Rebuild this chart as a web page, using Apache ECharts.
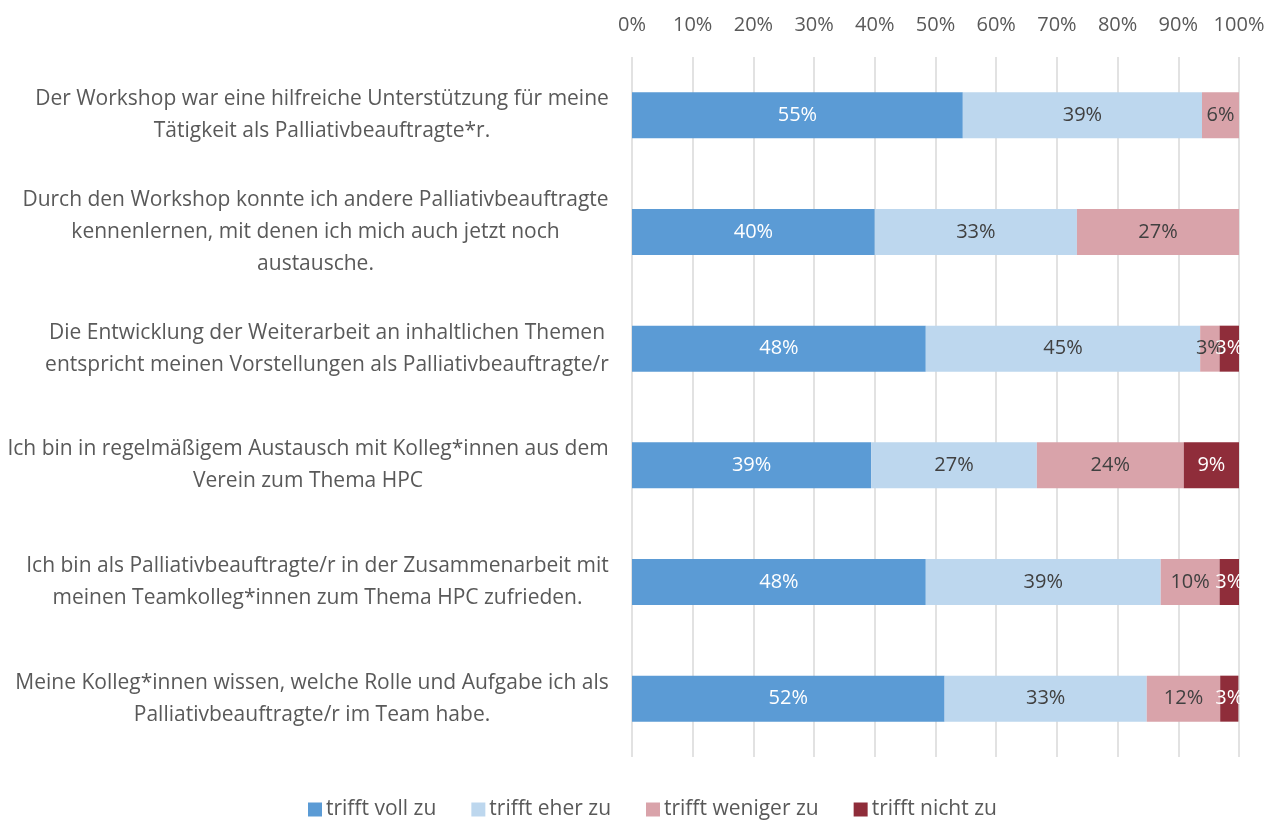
<!DOCTYPE html>
<html><head><meta charset="utf-8">
<script src="https://cdn.jsdelivr.net/npm/echarts@6/dist/echarts.min.js"></script>
<style>html,body{margin:0;padding:0;background:#fff}#c{width:1269px;height:821px}</style>
</head><body><div id="c"></div>
<script>
const categories = [
  "Der Workshop war eine hilfreiche Unterstützung für meine\nTätigkeit als Palliativbeauftragte*r.",
  "Durch den Workshop konnte ich andere Palliativbeauftragte\nkennenlernen, mit denen ich mich auch jetzt noch\naustausche.",
  "Die Entwicklung der Weiterarbeit an inhaltlichen Themen\nentspricht meinen Vorstellungen als Palliativbeauftragte/r",
  "Ich bin in regelmäßigem Austausch mit Kolleg*innen aus dem\nVerein zum Thema HPC",
  "Ich bin als Palliativbeauftragte/r in der Zusammenarbeit mit\nmeinen Teamkolleg*innen zum Thema HPC zufrieden.",
  "Meine Kolleg*innen wissen, welche Rolle und Aufgabe ich als\nPalliativbeauftragte/r im Team habe."
];
const seriesNames = ["trifft voll zu", "trifft eher zu", "trifft weniger zu", "trifft nicht zu"];
const vollZu    = [54.5, 40.0, 48.4, 39.4, 48.4, 51.5];
const eherZu    = [39.4, 33.3, 45.2, 27.3, 38.7, 33.3];
const wenigerZu = [6.1, 26.7, 3.2, 24.2, 9.7, 12.1];
const nichtZu   = [0, 0, 3.2, 9.1, 3.2, 3.0];
const xTicks = [0, 10, 20, 30, 40, 50, 60, 70, 80, 90, 100];

const FONT = "'Open Sans'";
const FS = 20;
const FSL = 21;
const colors = ["#5b9bd5", "#bdd7ee", "#d9a3aa", "#8f2d3a"];
const labelColors = ["#ffffff", "#404040", "#404040", "#ffffff"];

// measure widest line per category for centered multi-line labels
const cv = document.createElement('canvas').getContext('2d');
cv.font = FSL + "px " + FONT;
const rich = {};
categories.forEach((c, i) => {
  const w = Math.max(...c.split('\n').map(l => cv.measureText(l).width));
  rich['c' + i] = {width: Math.ceil(w) + 2, align: 'center', fontFamily: FONT, fontSize: FSL, color: '#595959', lineHeight: 32};
});

const allData = [vollZu, eherZu, wenigerZu, nichtZu];
const chart = echarts.init(document.getElementById('c'));
chart.setOption({
  animation: false,
  textStyle: {fontFamily: FONT},
  grid: {left: 632, right: 30, top: 57, bottom: 64, containLabel: false},
  legend: {
    bottom: -4, left: 303,
    itemWidth: 14, itemHeight: 14, itemGap: 35,
    icon: 'rect',
    textStyle: {fontFamily: FONT, fontSize: FSL, color: '#595959', padding: [0, 0, 0, -1]},
    data: seriesNames
  },
  xAxis: {
    type: 'value', position: 'top', min: xTicks[0], max: xTicks[xTicks.length - 1], interval: 10,
    axisLine: {show: false}, axisTick: {show: false},
    axisLabel: {formatter: v => v + '%', fontFamily: FONT, fontSize: FS, color: '#595959', margin: 22},
    splitLine: {show: true, lineStyle: {color: '#d9d9d9', width: 1.5}}
  },
  yAxis: {
    type: 'category', inverse: true, data: categories,
    axisLine: {show: false}, axisTick: {show: false},
    axisLabel: {
      margin: 22,
      formatter: (v, idx) => v.split('\n').map(l => '{c' + idx + '|' + l + '}').join('\n'),
      rich: rich
    }
  },
  series: allData.map((d, k) => ({
    name: seriesNames[k], type: 'bar', stack: 'total', barWidth: 46,
    itemStyle: {color: colors[k]},
    label: {
      show: true, position: 'inside', fontFamily: FONT, fontSize: FS, color: labelColors[k],
      formatter: p => p.value > 0 ? Math.round(p.value) + '%' : ''
    },
    data: d
  }))
});
</script></body></html>
